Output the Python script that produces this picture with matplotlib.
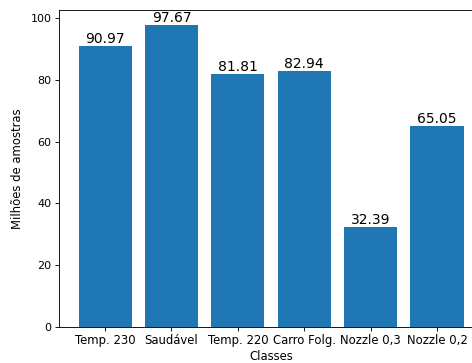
import matplotlib
matplotlib.use("Agg")
import matplotlib.pyplot as plt

classes = ["Temp. 230", "Saudável", "Temp. 220", "Carro Folg.", "Nozzle 0,3", "Nozzle 0,2"]
amostras = [90.97, 97.67, 81.81, 82.94, 32.39, 65.05]

W, H = 472, 363
fig = plt.figure(figsize=(W / 80, H / 80), dpi=80)
left, right, top, bottom = 59.3, 482.8, 10.3, 326.7
ax = fig.add_axes([left / W, 1 - bottom / H, (right - left) / W, (bottom - top) / H])

bars = ax.bar(classes, amostras, color="#1f77b4")
ax.bar_label(bars, labels=[f"{v:.2f}" for v in amostras], fontsize=12.5, padding=0)
ax.set_xlabel("Classes", fontsize=10.5, labelpad=2)
ax.set_ylabel("Milhões de amostras", fontsize=10.5, labelpad=6)
ax.tick_params(axis="x", labelsize=10.5)

fig.savefig("out.png", dpi=80)
